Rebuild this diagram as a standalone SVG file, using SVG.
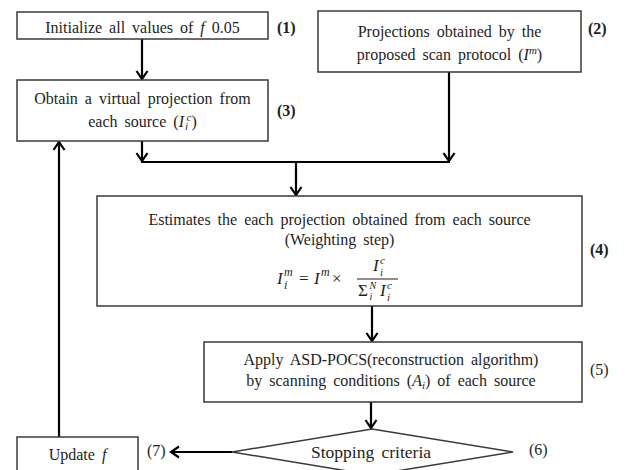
<svg xmlns="http://www.w3.org/2000/svg" width="630" height="470" viewBox="0 0 630 470">
<defs>
<marker id="arr" viewBox="-10 -7 12 14" refX="0" refY="0" markerWidth="12" markerHeight="14" markerUnits="userSpaceOnUse" orient="auto">
<path d="M-8,-5.5 L0,0 L-8,5.5" fill="none" stroke="#000" stroke-width="2.2"/>
</marker>
</defs>
<style>
text{font-family:"Liberation Serif","Times New Roman",serif;font-size:16px;fill:#1e1e1e;word-spacing:3px}
.c{text-anchor:middle}
.box{fill:#fff;stroke:#3a3a3a;stroke-width:1.5}
.ln{fill:none;stroke:#000;stroke-width:2.2}
.lbl{font-weight:bold;word-spacing:0}
.lb{word-spacing:0}
.it{font-style:italic}
.s{font-size:11px;font-style:italic}
.m{font-size:17px;font-style:italic}
.ms{font-size:12px;font-style:italic}
</style>
<rect width="630" height="470" fill="#fff"/>

<g id="connectors">
<path class="ln" d="M142,39 V79" marker-end="url(#arr)"/>
<path class="ln" d="M142,141 V161" marker-end="url(#arr)"/>
<path class="ln" d="M449,72 V161" marker-end="url(#arr)"/>
<path class="ln" d="M141,162 H450"/>
<path class="ln" d="M296,162 V195" marker-end="url(#arr)"/>
<path class="ln" d="M372,306 V341" marker-end="url(#arr)"/>
<path class="ln" d="M371,402 V428" marker-end="url(#arr)"/>
<path class="ln" d="M232,452 H171" marker-end="url(#arr)"/>
<path class="ln" d="M59,437 V142" marker-end="url(#arr)"/>
</g>

<g id="n1">
<rect class="box" x="17" y="12" width="251" height="27"/>
<text class="c" x="142.5" y="33">Initialize all values of <tspan class="it">f</tspan> 0.05</text>
<text class="lbl" x="277" y="33">(1)</text>
</g>

<g id="n2">
<rect class="box" x="318" y="11" width="263" height="61"/>
<text class="c" x="449.5" y="37">Projections obtained by the</text>
<text class="c" x="449.5" y="60">proposed scan protocol (<tspan class="it">I</tspan><tspan class="s" dy="-6">m</tspan><tspan dy="6">)</tspan></text>
<text class="lbl" x="588" y="34">(2)</text>
</g>

<g id="n3">
<rect class="box" x="17" y="80" width="251" height="61"/>
<text class="c" x="142.5" y="104">Obtain a virtual projection from</text>
<text class="c" x="142.5" y="127">each source (<tspan class="it">I</tspan><tspan class="s" dy="3" dx="1">i</tspan><tspan class="s" dy="-9" dx="-1.5">c</tspan><tspan dy="6">)</tspan></text>
<text class="lbl" x="277" y="116">(3)</text>
</g>

<g id="n4">
<rect class="box" x="97" y="196" width="485" height="110"/>
<text class="c" x="339.5" y="225">Estimates the each projection obtained from each source</text>
<text class="c" x="339.5" y="245">(Weighting step)</text>
<text class="m" x="277" y="284">I</text>
<text class="ms" x="284" y="276">m</text>
<text class="ms" x="284" y="289">i</text>
<text x="299" y="284" style="font-size:17px">=</text>
<text class="m" x="314" y="284">I</text>
<text class="ms" x="321" y="276">m</text>
<text x="332" y="284" style="font-size:17px">×</text>
<line x1="357" y1="279" x2="398" y2="279" stroke="#1e1e1e" stroke-width="1"/>
<text class="m" x="373" y="271">I</text>
<text class="s" x="380" y="264">c</text>
<text class="s" x="380" y="276">i</text>
<text x="358" y="296" style="font-size:17px">Σ</text>
<text class="s" x="369.5" y="289" style="font-size:10px">N</text>
<text class="s" x="369.5" y="300" style="font-size:10px">i</text>
<text class="m" x="380" y="296">I</text>
<text class="s" x="387" y="289">c</text>
<text class="s" x="387" y="301">i</text>
<text class="lbl" x="590" y="255">(4)</text>
</g>

<g id="n5">
<rect class="box" x="204" y="342" width="378" height="60"/>
<text class="c" x="391" y="365">Apply ASD-POCS(reconstruction algorithm)</text>
<text class="c" x="391" y="386">by scanning conditions (<tspan class="it">A</tspan><tspan class="s" dy="3">i</tspan><tspan dy="-3">) of each source</tspan></text>
<text class="lb" x="590" y="375">(5)</text>
</g>

<g id="n6">
<polygon class="box" points="372,429 513,452 372,475 232,452"/>
<text class="c" x="371" y="458" style="font-size:17.5px">Stopping criteria</text>
<text class="lb" x="529" y="455">(6)</text>
</g>

<g id="n7">
<rect class="box" x="17" y="437" width="121" height="40"/>
<text class="c" x="77.5" y="460">Update <tspan class="it">f</tspan></text>
<text class="lb" x="147" y="456">(7)</text>
</g>
</svg>
